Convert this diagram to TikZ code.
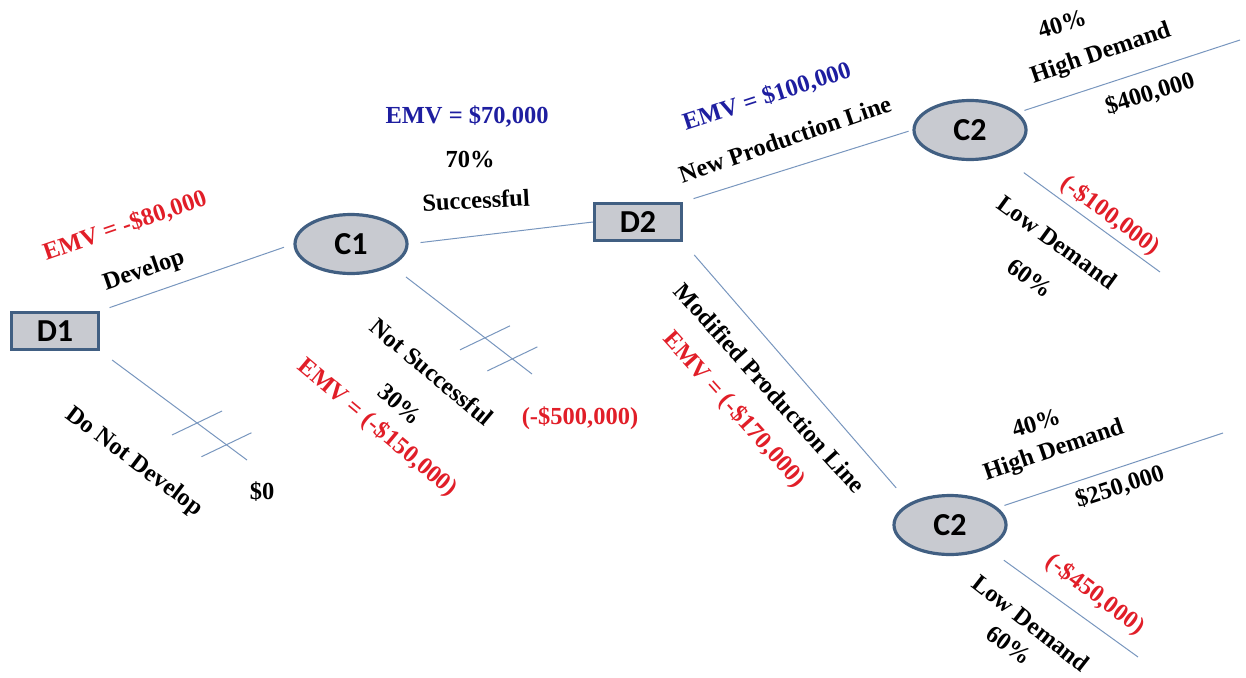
\documentclass[tikz,border=0pt]{standalone}
\usepackage{fontspec}
\setmainfont{Liberation Serif}
\newfontfamily\boxfont{Carlito}
\usetikzlibrary{shapes.geometric,calc}

\definecolor{nodefill}{RGB}{200,202,208}
\definecolor{nodeline}{RGB}{65,95,130}
\definecolor{branch}{RGB}{120,150,190}
\definecolor{emvred}{RGB}{225,30,40}
\definecolor{emvblue}{RGB}{30,30,160}

\begin{document}
\begin{tikzpicture}[x=1pt,y=-1pt]
\tikzstyle{dec}=[draw=nodeline, line width=3.2pt, rectangle, fill=nodefill,
minimum width=87pt, minimum height=37pt, inner sep=0pt,
font=\boxfont\bfseries\fontsize{32}{36}\selectfont]
\tikzstyle{chance}=[dec, ellipse, minimum width=112pt, minimum height=59pt]
\tikzstyle{br}=[draw=branch, line width=1pt]
\tikzstyle{lbl}=[inner sep=0pt, font=\bfseries\fontsize{24.5}{28}\selectfont]

\useasboundingbox (0,0) rectangle (1246,677);

% decision and chance nodes
\node[dec] (d1) at (55,331) {D1};
\node[chance] (c1) at (351,244) {C1};
\node[dec] (d2) at (638,222) {D2};
\node[chance] (c2a) at (970,130) {C2};
\node[chance] (c2b) at (950,525) {C2};

% loose ends
\coordinate (nodev) at (247,460);
\coordinate (fail) at (532,374);
\coordinate (hia) at (1240,40);
\coordinate (loa) at (1160,272);
\coordinate (hib) at (1223,433);
\coordinate (lob) at (1138,657);

% branches
\draw[br, shorten <=10pt, shorten >=10pt] (d1.north east) -- (c1.west);
\draw[br, shorten <=15pt] (d1.south east) -- (nodev);
\draw[br, shorten <=12pt] (c1.east) -- (d2.west);
\draw[br, shorten <=18pt] (c1.south east) -- (fail);
\draw[br, shorten <=11pt, shorten >=4pt] (d2.north east) -- (c2a.west);
\draw[br, shorten <=17pt, shorten >=20pt] (d2.south east) -- (c2b.north west);
\draw[br, shorten <=7pt] (c2a.20) -- (hia);
\draw[br, shorten <=28pt] (c2a.-40) -- (loa);
\draw[br, shorten <=7pt] (c2b.20) -- (hib);
\draw[br, shorten <=20pt] (c2b.-32) -- (lob);

% pruned branches
\coordinate (cut1) at ($(d1.south east)!0.66!(nodev)$);
\coordinate (cut2) at ($(d1.south east)!0.86!(nodev)$);
\coordinate (cut3) at ($(c1.south east)!0.665!(fail)$);
\coordinate (cut4) at ($(c1.south east)!0.86!(fail)$);
\foreach \c in {cut1,cut2,cut3,cut4}
  \draw[br] ([shift={(-25,12)}]\c) -- ([shift={(25,-12)}]\c);

% first decision
\node[lbl, text=emvred, rotate=19] (emvdev) at (125,226) {EMV = -\$80,000};
\node[lbl, rotate=19] (dev) at (144,271) {Develop};
\node[lbl, rotate=-37] (nodevlbl) at (134,462) {Do Not Develop};
\node[lbl] (zero) at (262,492) {\$0};

% first chance
\node[lbl, text=emvblue] (emvsucc) at (467,117) {EMV = \$70,000};
\node[lbl] (psucc) at (470,160) {70\%};
\node[lbl, rotate=3] (succ) at (476,200) {Successful};
\node[lbl, rotate=-40] (notsucc) at (432,372) {Not Successful};
\node[lbl, rotate=-40] (pfail) at (400,404) {30\%};
\node[lbl, text=emvred, rotate=-40] (emvfail) at (377,428) {EMV = (-\$150,000)};
\node[lbl, text=emvred] (vfail) at (580,418) {(-\$500,000)};

% second decision
\node[lbl, text=emvblue, rotate=18] (emvnew) at (767,97) {EMV = \$100,000};
\node[lbl, rotate=19] (newline) at (785,139) {New Production Line};
\node[lbl, rotate=-48] (modline) at (770,388) {Modified Production Line};
\node[lbl, text=emvred, rotate=-48] (emvmod) at (734,410) {EMV = (-\$170,000)};

% upper demand
\node[lbl, rotate=17] (pha) at (1062,24) {40\%};
\node[lbl, rotate=19] (hda) at (1101,54) {High Demand};
\node[lbl, rotate=17] (vha) at (1150,94) {\$400,000};
\node[lbl, text=emvred, rotate=-36] (vla) at (1110,216) {(-\$100,000)};
\node[lbl, rotate=-36] (lda) at (1057,242) {Low Demand};
\node[lbl, rotate=-36] (pla) at (1030,278) {60\%};

% lower demand
\node[lbl, rotate=17] (phb) at (1036,423) {40\%};
\node[lbl, rotate=19] (hdb) at (1054,451) {High Demand};
\node[lbl, rotate=18] (vhb) at (1120,487) {\$250,000};
\node[lbl, text=emvred, rotate=-37] (vlb) at (1095,595) {(-\$450,000)};
\node[lbl, rotate=-38] (ldb) at (1031,623) {Low Demand};
\node[lbl, rotate=-36] (plb) at (1009,645) {60\%};

\end{tikzpicture}
\end{document}
